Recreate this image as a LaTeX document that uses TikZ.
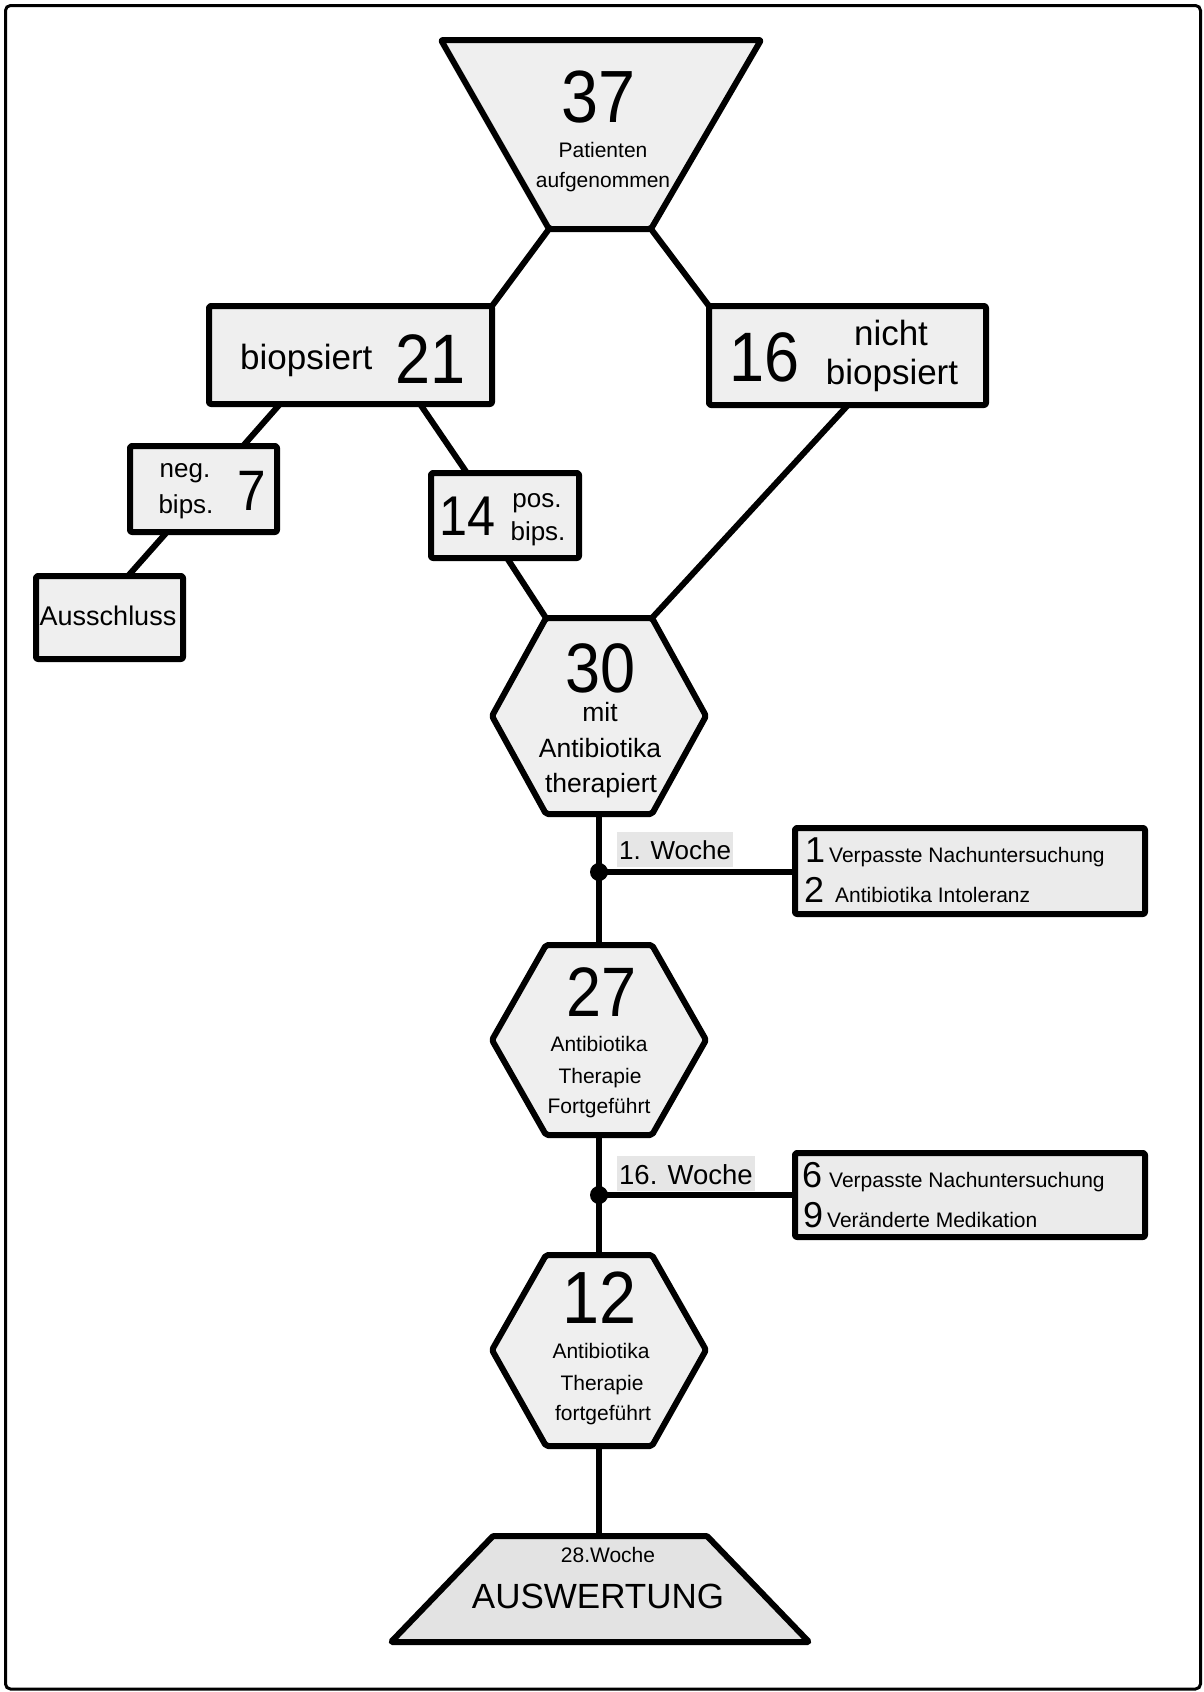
\documentclass[tikz,border=0pt]{standalone}
\usepackage{fontspec}
\setmainfont{Liberation Sans}
\newfontfamily\numfont[FakeStretch=0.9]{Liberation Sans}
\newcommand\fsz[1]{\fontsize{#1}{#1}\selectfont}
\definecolor{boxfill}{HTML}{EFEFEF}
\definecolor{botfill}{HTML}{E3E3E3}
\definecolor{labelbg}{HTML}{E6E6E6}
\definecolor{sidefill}{HTML}{EBEBEB}
\begin{document}
\begin{tikzpicture}[x=1pt,y=-1pt,
  shapebox/.style={draw=black, line width=6pt, fill=boxfill, line join=round, rounded corners=2pt},
  conn/.style={line width=6pt, draw=black},
  txt/.style={inner sep=0pt, anchor=base},
  txtw/.style={inner sep=0pt, anchor=base west},
  num/.style={text depth=0pt},
  wlabel/.style={inner xsep=2pt, inner ysep=0pt, anchor=base west, fill=labelbg, text height=27pt, text depth=8pt}]
\useasboundingbox (0,0) rectangle (1203,1692);
\fill[white] (0,0) rectangle (1203,1692);
\draw[line width=3pt, rounded corners=5pt] (5.5,5.5) rectangle (1200.5,1689);

% ---- corner coordinates
\coordinate (Ttl) at (441,40);  \coordinate (Ttr) at (761,40);
\coordinate (Tbr) at (651,229); \coordinate (Tbl) at (549,229);
\coordinate (Btr) at (492,306); \coordinate (Bb1) at (280,404); \coordinate (Bb2) at (420,404);
\coordinate (Ntl) at (709,306); \coordinate (Nb) at (848,405);
\coordinate (Negt) at (243,446); \coordinate (Negb) at (167,532);
\coordinate (Post) at (467,473); \coordinate (Posb) at (507,558);
\coordinate (Aust) at (128,576);
\coordinate (H1tl) at (546,618); \coordinate (H1tr) at (652,618);
\coordinate (H1b) at (599,814); \coordinate (H2t) at (599,945);
\coordinate (H2b) at (599,1135); \coordinate (H3t) at (599,1255);
\coordinate (H3b) at (599,1446); \coordinate (Bt) at (599,1536);
\coordinate (D1) at (599,872); \coordinate (D2) at (599,1195);
\coordinate (S1l) at (795,872); \coordinate (S2l) at (795,1195);

% ---- connectors
\draw[conn] (Tbl) -- (Btr);
\draw[conn] (Tbr) -- (Ntl);
\draw[conn] (Bb1) -- (Negt);
\draw[conn] (Bb2) -- (Post);
\draw[conn] (Negb) -- (Aust);
\draw[conn] (Posb) -- (H1tl);
\draw[conn] (Nb) -- (H1tr);
\draw[conn] (H1b) -- (H2t);
\draw[conn] (H2b) -- (H3t);
\draw[conn] (H3b) -- (Bt);
\draw[conn] (D1) -- (S1l);
\draw[conn] (D2) -- (S2l);
\fill (D1) circle (9);
\fill (D2) circle (9);

% ---- shapes
\draw[shapebox] (Ttl) -- (Ttr) -- (Tbr) -- (Tbl) -- cycle;
\draw[shapebox] (209,306) rectangle (492,404);
\draw[shapebox] (709,306) rectangle (986,405);
\draw[shapebox] (130,446) rectangle (277,532);
\draw[shapebox] (431,473) rectangle (579,558);
\draw[shapebox] (36,576) rectangle (183,659);
\draw[shapebox] (546,618) -- (652,618) -- (706,716) -- (652,814) -- (546,814) -- (492,716) -- cycle;
\draw[shapebox] (546,945) -- (652,945) -- (706,1040) -- (652,1135) -- (546,1135) -- (492,1040) -- cycle;
\draw[shapebox] (546,1255) -- (652,1255) -- (706,1350) -- (652,1446) -- (546,1446) -- (492,1350) -- cycle;
\draw[shapebox, fill=botfill, rounded corners=1pt] (493,1536) -- (707,1536) -- (809,1642) -- (391,1642) -- cycle;
\draw[shapebox, fill=sidefill] (795,828) rectangle (1145,914);
\draw[shapebox, fill=sidefill] (795,1153) rectangle (1145,1237);

% ---- texts
\node[txt,num] (n37) at (599,122) {\numfont\fsz{74}37};
\node[txt] (pat) at (603,157) {\fsz{21}Patienten};
\node[txt] (auf) at (603,187) {\fsz{21}aufgenommen};

\node[txtw] (bio) at (240,369) {\fsz{35}biopsiert};
\node[txtw,num] (n21) at (395,383) {\numfont\fsz{70}21};

\node[txtw,num] (n16) at (729,381) {\numfont\fsz{70}16};
\node[txt] (nicht) at (891,345) {\fsz{35}nicht};
\node[txt] (nbio) at (892,384) {\fsz{35}biopsiert};

\node[txt] (neg) at (185,477) {\fsz{26}neg.};
\node[txt] (negb) at (186,513) {\fsz{26}bips.};
\node[txtw,num] (n7) at (237,510) {\numfont\fsz{57}7};

\node[txtw,num] (n14) at (439,535) {\numfont\fsz{56}14};
\node[txt] (pos) at (537,507) {\fsz{26}pos.};
\node[txt] (posb) at (538,540) {\fsz{26}bips.};

\node[txt] (aus) at (108,625) {\fsz{27}Ausschluss};

\node[txt,num] (n30) at (601,692) {\numfont\fsz{70}30};
\node[txt, text height=19pt] (mit) at (600,721) {\fsz{26.5}mit};
\node[txt] (ab1) at (600,757) {\fsz{26.5}Antibiotika};
\node[txt] (ther) at (601,792) {\fsz{26.5}therapiert};

\node[txt,num] (n27) at (602,1016) {\numfont\fsz{70}27};
\node[txt] (ab2) at (599,1051) {\fsz{21}Antibiotika};
\node[txt] (th2) at (600,1083) {\fsz{21}Therapie};
\node[txt] (fg2) at (599,1113) {\fsz{21}Fortgeführt};

\node[txt,num] (n12) at (600,1323) {\numfont\fsz{74}12};
\node[txt] (ab3) at (601,1358) {\fsz{21}Antibiotika};
\node[txt] (th3) at (602,1390) {\fsz{21}Therapie};
\node[txt] (fg3) at (603,1420) {\fsz{21}fortgeführt};

\node[txt] (w28) at (608,1562) {\fsz{21}28.Woche};
\node[txt] (ausw) at (598,1608) {\fsz{35}AUSWERTUNG};

\node[wlabel] (w1) at (617,859) {\fsz{26}1. Woche};
\node[wlabel, text height=28pt, text depth=7pt] (w16) at (617,1184) {\fsz{27.5}16. Woche};

\node[txtw] (c1) at (805,862) {\fsz{36}1};
\node[txtw] (t1) at (829,862) {\fsz{21}Verpasste Nachuntersuchung};
\node[txtw] (c2) at (804,902) {\fsz{36}2};
\node[txtw] (t2) at (835,902) {\fsz{21}Antibiotika Intoleranz};
\node[txtw] (c6) at (802,1187) {\fsz{36}6};
\node[txtw] (t6) at (829,1187) {\fsz{21}Verpasste Nachuntersuchung};
\node[txtw] (c9) at (803,1227) {\fsz{36}9};
\node[txtw] (t9) at (827,1227) {\fsz{21}Veränderte Medikation};
\end{tikzpicture}
\end{document}
